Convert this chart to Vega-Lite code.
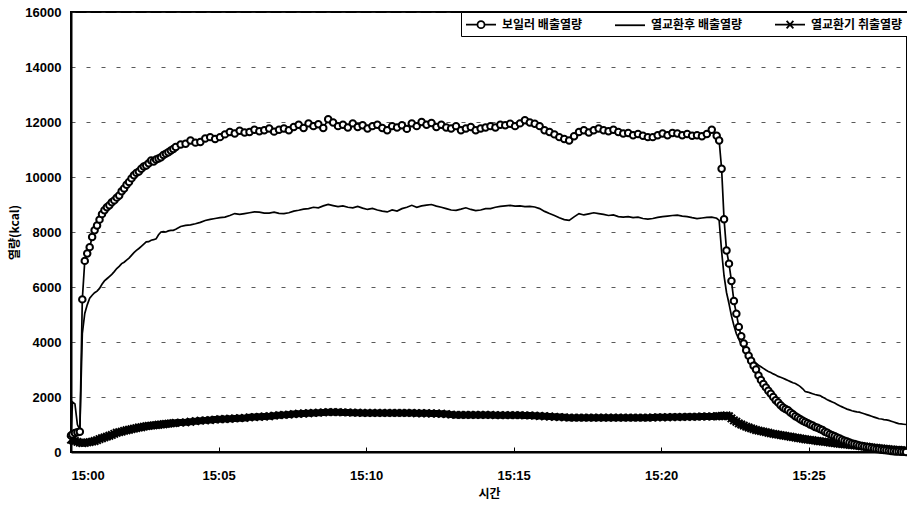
{
  "$schema": "https://vega.github.io/schema/vega-lite/v6.json",
  "autosize": "none",
  "width": 836,
  "height": 440,
  "padding": {"left": 71, "top": 12, "right": 0, "bottom": 57},
  "background": "white",
  "config": {
    "view": {"stroke": "black", "strokeWidth": 2},
    "font": "Liberation Sans"
  },
  "data": {"values": [
    {"s":0,"b":600,"a":550,"i":450},{"s":3,"b":640,"a":1820,"i":430},{"s":8,"b":690,"a":1750,"i":400},{"s":13,"b":720,"a":1000,"i":370},{"s":18,"b":740,"a":800,"i":340},
    {"s":23,"b":5550,"a":4300,"i":320},{"s":28,"b":6950,"a":5040,"i":330},{"s":33,"b":7220,"a":5350,"i":350},{"s":38,"b":7450,"a":5590,"i":360},{"s":43,"b":7820,"a":5700,"i":380},
    {"s":48,"b":8060,"a":5790,"i":400},{"s":53,"b":8240,"a":5850,"i":430},{"s":58,"b":8450,"a":5950,"i":470},{"s":63,"b":8650,"a":6100,"i":500},{"s":68,"b":8790,"a":6220,"i":530},
    {"s":73,"b":8900,"a":6300,"i":560},{"s":78,"b":8970,"a":6380,"i":590},{"s":83,"b":9080,"a":6460,"i":620},{"s":88,"b":9150,"a":6560,"i":660},{"s":93,"b":9250,"a":6670,"i":700},
    {"s":98,"b":9330,"a":6750,"i":720},{"s":103,"b":9480,"a":6850,"i":740},{"s":108,"b":9580,"a":6900,"i":770},{"s":113,"b":9720,"a":6980,"i":790},{"s":118,"b":9820,"a":7050,"i":810},
    {"s":123,"b":9950,"a":7150,"i":830},{"s":128,"b":10060,"a":7250,"i":850},{"s":133,"b":10150,"a":7330,"i":870},{"s":138,"b":10200,"a":7400,"i":890},{"s":143,"b":10300,"a":7480,"i":900},
    {"s":148,"b":10380,"a":7560,"i":920},{"s":153,"b":10420,"a":7640,"i":940},{"s":158,"b":10500,"a":7650,"i":950},{"s":163,"b":10600,"a":7700,"i":960},{"s":168,"b":10560,"a":7720,"i":970},
    {"s":173,"b":10640,"a":7750,"i":980},{"s":178,"b":10670,"a":7900,"i":990},{"s":183,"b":10720,"a":8000,"i":1000},{"s":188,"b":10800,"a":8010,"i":1010},{"s":193,"b":10850,"a":8000,"i":1020},
    {"s":198,"b":10900,"a":8040,"i":1030},{"s":203,"b":10960,"a":8060,"i":1040},{"s":208,"b":11020,"a":8060,"i":1050},{"s":213,"b":11090,"a":8100,"i":1060},
    {"s":223,"b":11180,"a":8200,"i":1070},{"s":233,"b":11210,"a":8240,"i":1080},{"s":243,"b":11330,"a":8260,"i":1100},{"s":253,"b":11250,"a":8300,"i":1120},{"s":263,"b":11270,"a":8350,"i":1140},
    {"s":273,"b":11400,"a":8420,"i":1150},{"s":283,"b":11450,"a":8460,"i":1160},{"s":293,"b":11380,"a":8490,"i":1180},{"s":303,"b":11450,"a":8520,"i":1190},{"s":313,"b":11550,"a":8540,"i":1200},
    {"s":323,"b":11640,"a":8600,"i":1210},{"s":333,"b":11580,"a":8670,"i":1220},{"s":343,"b":11680,"a":8640,"i":1230},{"s":353,"b":11620,"a":8670,"i":1240},{"s":363,"b":11640,"a":8700,"i":1260},
    {"s":373,"b":11720,"a":8730,"i":1270},{"s":383,"b":11660,"a":8720,"i":1280},{"s":393,"b":11700,"a":8690,"i":1290},{"s":403,"b":11760,"a":8690,"i":1300},{"s":413,"b":11650,"a":8720,"i":1320},
    {"s":423,"b":11720,"a":8680,"i":1340},{"s":433,"b":11760,"a":8670,"i":1350},{"s":443,"b":11700,"a":8700,"i":1360},{"s":453,"b":11820,"a":8760,"i":1380},{"s":463,"b":11900,"a":8790,"i":1390},
    {"s":473,"b":11780,"a":8830,"i":1400},{"s":483,"b":11950,"a":8850,"i":1410},{"s":493,"b":11850,"a":8900,"i":1420},{"s":503,"b":11920,"a":8880,"i":1430},{"s":513,"b":11780,"a":8950,"i":1440},
    {"s":523,"b":12100,"a":9000,"i":1450},{"s":533,"b":11980,"a":8960,"i":1450},{"s":543,"b":11850,"a":8920,"i":1450},{"s":553,"b":11900,"a":8950,"i":1440},{"s":563,"b":11800,"a":8900,"i":1440},
    {"s":573,"b":11950,"a":8880,"i":1430},{"s":583,"b":11820,"a":8930,"i":1430},{"s":593,"b":11880,"a":8870,"i":1420},{"s":603,"b":11760,"a":8820,"i":1420},{"s":613,"b":11850,"a":8860,"i":1420},
    {"s":623,"b":11900,"a":8800,"i":1420},{"s":633,"b":11780,"a":8760,"i":1420},{"s":643,"b":11700,"a":8730,"i":1420},{"s":653,"b":11850,"a":8800,"i":1420},{"s":663,"b":11800,"a":8760,"i":1420},
    {"s":673,"b":11880,"a":8850,"i":1420},{"s":683,"b":11750,"a":8900,"i":1420},{"s":693,"b":11950,"a":8970,"i":1420},{"s":703,"b":11850,"a":8900,"i":1410},{"s":713,"b":12000,"a":8950,"i":1410},
    {"s":723,"b":11900,"a":8980,"i":1410},{"s":733,"b":11960,"a":9000,"i":1400},{"s":743,"b":11820,"a":8940,"i":1400},{"s":753,"b":11900,"a":8900,"i":1390},{"s":763,"b":11800,"a":8850,"i":1380},
    {"s":773,"b":11760,"a":8800,"i":1360},{"s":783,"b":11850,"a":8790,"i":1350},{"s":793,"b":11700,"a":8830,"i":1350},{"s":803,"b":11760,"a":8880,"i":1350},{"s":813,"b":11820,"a":8820,"i":1350},
    {"s":823,"b":11700,"a":8780,"i":1350},{"s":833,"b":11760,"a":8800,"i":1350},{"s":843,"b":11800,"a":8850,"i":1350},{"s":853,"b":11850,"a":8850,"i":1350},{"s":863,"b":11800,"a":8900,"i":1340},
    {"s":873,"b":11900,"a":8930,"i":1340},{"s":883,"b":11880,"a":8950,"i":1340},{"s":893,"b":11940,"a":8970,"i":1340},{"s":903,"b":11850,"a":8940,"i":1340},{"s":913,"b":11950,"a":8950,"i":1340},
    {"s":923,"b":12060,"a":8920,"i":1330},{"s":933,"b":11980,"a":8930,"i":1330},{"s":943,"b":11940,"a":8910,"i":1320},{"s":953,"b":11850,"a":8850,"i":1310},{"s":963,"b":11700,"a":8750,"i":1300},
    {"s":973,"b":11640,"a":8670,"i":1290},{"s":983,"b":11550,"a":8600,"i":1280},{"s":993,"b":11450,"a":8520,"i":1270},{"s":1003,"b":11380,"a":8450,"i":1260},{"s":1013,"b":11330,"a":8420,"i":1250},
    {"s":1023,"b":11480,"a":8550,"i":1250},{"s":1033,"b":11640,"a":8670,"i":1250},{"s":1043,"b":11700,"a":8620,"i":1250},{"s":1053,"b":11620,"a":8660,"i":1250},{"s":1063,"b":11700,"a":8700,"i":1250},
    {"s":1073,"b":11760,"a":8670,"i":1250},{"s":1083,"b":11700,"a":8640,"i":1250},{"s":1093,"b":11660,"a":8600,"i":1250},{"s":1103,"b":11720,"a":8620,"i":1250},{"s":1113,"b":11640,"a":8560,"i":1250},
    {"s":1123,"b":11580,"a":8540,"i":1250},{"s":1133,"b":11600,"a":8560,"i":1250},{"s":1143,"b":11520,"a":8520,"i":1250},{"s":1153,"b":11560,"a":8540,"i":1250},{"s":1163,"b":11500,"a":8490,"i":1250},
    {"s":1173,"b":11450,"a":8470,"i":1250},{"s":1183,"b":11450,"a":8490,"i":1255},{"s":1193,"b":11520,"a":8530,"i":1260},{"s":1203,"b":11580,"a":8560,"i":1260},{"s":1213,"b":11520,"a":8580,"i":1265},
    {"s":1223,"b":11600,"a":8600,"i":1270},{"s":1233,"b":11580,"a":8610,"i":1270},{"s":1243,"b":11520,"a":8580,"i":1275},{"s":1253,"b":11560,"a":8560,"i":1280},{"s":1263,"b":11500,"a":8520,"i":1280},
    {"s":1273,"b":11520,"a":8490,"i":1285},{"s":1283,"b":11480,"a":8510,"i":1290},{"s":1293,"b":11560,"a":8530,"i":1290},{"s":1303,"b":11720,"a":8540,"i":1295},{"s":1313,"b":11500,"a":8500,"i":1300},
    {"s":1318,"b":11330,"a":8420,"i":1300},{"s":1323,"b":10300,"a":7300,"i":1310},{"s":1328,"b":8460,"a":6400,"i":1320},{"s":1333,"b":7330,"a":5800,"i":1330},{"s":1338,"b":6850,"a":5400,"i":1300},
    {"s":1343,"b":6220,"a":4950,"i":1220},{"s":1348,"b":5490,"a":4600,"i":1150},{"s":1353,"b":5030,"a":4300,"i":1100},{"s":1358,"b":4550,"a":4100,"i":1040},{"s":1363,"b":4210,"a":3900,"i":1000},
    {"s":1368,"b":3950,"a":3760,"i":960},{"s":1373,"b":3700,"a":3620,"i":920},{"s":1378,"b":3500,"a":3500,"i":890},{"s":1383,"b":3320,"a":3400,"i":860},{"s":1388,"b":3140,"a":3310,"i":830},
    {"s":1393,"b":3000,"a":3230,"i":800},{"s":1398,"b":2780,"a":3160,"i":780},{"s":1403,"b":2620,"a":3100,"i":760},{"s":1408,"b":2470,"a":3040,"i":740},{"s":1413,"b":2350,"a":2980,"i":720},
    {"s":1418,"b":2230,"a":2930,"i":700},{"s":1423,"b":2120,"a":2890,"i":680},{"s":1428,"b":2000,"a":2840,"i":660},{"s":1433,"b":1880,"a":2800,"i":645},{"s":1438,"b":1800,"a":2750,"i":630},
    {"s":1443,"b":1700,"a":2720,"i":615},{"s":1448,"b":1620,"a":2680,"i":600},{"s":1453,"b":1560,"a":2640,"i":585},{"s":1458,"b":1520,"a":2600,"i":570},{"s":1463,"b":1440,"a":2560,"i":555},
    {"s":1468,"b":1370,"a":2520,"i":540},{"s":1473,"b":1300,"a":2490,"i":525},{"s":1478,"b":1250,"a":2440,"i":510},{"s":1483,"b":1190,"a":2380,"i":495},{"s":1488,"b":1140,"a":2300,"i":480},
    {"s":1493,"b":1090,"a":2200,"i":465},{"s":1498,"b":1050,"a":2180,"i":450},{"s":1503,"b":1000,"a":2150,"i":440},{"s":1508,"b":960,"a":2120,"i":430},{"s":1513,"b":910,"a":2090,"i":415},
    {"s":1518,"b":880,"a":2070,"i":400},{"s":1523,"b":840,"a":2050,"i":390},{"s":1528,"b":800,"a":2000,"i":380},{"s":1533,"b":740,"a":1950,"i":370},{"s":1538,"b":700,"a":1900,"i":360},
    {"s":1543,"b":650,"a":1860,"i":345},{"s":1548,"b":610,"a":1820,"i":330},{"s":1553,"b":570,"a":1780,"i":320},{"s":1558,"b":530,"a":1730,"i":310},{"s":1563,"b":490,"a":1680,"i":300},
    {"s":1568,"b":450,"a":1640,"i":290},{"s":1573,"b":410,"a":1600,"i":280},{"s":1578,"b":380,"a":1560,"i":270},{"s":1583,"b":350,"a":1530,"i":260},{"s":1588,"b":310,"a":1500,"i":250},
    {"s":1593,"b":290,"a":1480,"i":240},{"s":1598,"b":260,"a":1460,"i":230},{"s":1603,"b":240,"a":1450,"i":220},{"s":1608,"b":220,"a":1420,"i":210},{"s":1613,"b":200,"a":1390,"i":200},
    {"s":1618,"b":185,"a":1360,"i":190},{"s":1623,"b":170,"a":1330,"i":180},{"s":1628,"b":150,"a":1300,"i":170},{"s":1633,"b":130,"a":1270,"i":160},{"s":1638,"b":110,"a":1240,"i":150},
    {"s":1643,"b":100,"a":1210,"i":140},{"s":1648,"b":85,"a":1200,"i":130},{"s":1653,"b":70,"a":1180,"i":120},{"s":1658,"b":60,"a":1170,"i":110},{"s":1663,"b":50,"a":1150,"i":100},
    {"s":1668,"b":40,"a":1120,"i":90},{"s":1673,"b":30,"a":1090,"i":85},{"s":1678,"b":20,"a":1060,"i":80},{"s":1683,"b":15,"a":1030,"i":75},{"s":1688,"b":10,"a":1020,"i":70},
    {"s":1693,"b":5,"a":1010,"i":65},{"s":1698,"b":0,"a":1000,"i":60}
  ]},
  "transform": [{"fold": ["b", "a", "i"], "as": ["k", "v"]}],
  "encoding": {
    "x": {
      "field": "s", "type": "quantitative",
      "scale": {"domain": [0, 1700], "nice": false, "zero": false},
      "axis": {
        "title": "시간",
        "titleFont": "Noto Sans CJK KR", "titleFontSize": 12, "titleFontWeight": "bold", "titleColor": "black", "titlePadding": 6,
        "values": [0, 300, 600, 900, 1200, 1500],
        "labelExpr": "'15:' + (datum.value < 600 ? '0' : '') + (datum.value / 60)",
        "labelFont": "Liberation Sans", "labelFontSize": 13, "labelFontWeight": "bold", "labelColor": "black",
        "labelPadding": 22,
        "ticks": true, "tickSize": -5, "tickColor": "black", "tickWidth": 1,
        "grid": false,
        "domain": true, "domainColor": "black", "domainWidth": 2
      }
    },
    "y": {
      "field": "v", "type": "quantitative",
      "scale": {"domain": [0, 16000], "nice": false},
      "axis": {
        "title": "열량(kcal)",
        "titleFont": "Noto Sans CJK KR", "titleFontSize": 12, "titleFontWeight": "bold", "titleColor": "black", "titlePadding": 3,
        "values": [0, 2000, 4000, 6000, 8000, 10000, 12000, 14000, 16000],
        "format": "d",
        "labelFont": "Liberation Sans", "labelFontSize": 13, "labelFontWeight": "bold", "labelColor": "black",
        "labelPadding": 10,
        "ticks": false,
        "grid": true, "gridColor": "#222222", "gridDash": [4, 11], "gridWidth": 1, "gridOpacity": 0.75,
        "domain": true, "domainColor": "black", "domainWidth": 2
      }
    }
  },
  "layer": [
    {
      "transform": [{"filter": "datum.k == 'i'"}],
      "mark": {"type": "line", "color": "black", "strokeWidth": 7}
    },
    {
      "transform": [{"filter": "datum.k == 'i'"}],
      "mark": {"type": "point", "shape": "M-1,-1L1,1M-1,1L1,-1", "filled": false, "stroke": "black", "strokeWidth": 2, "size": 55, "opacity": 1}
    },
    {
      "transform": [{"filter": "datum.k == 'a'"}],
      "mark": {"type": "line", "color": "black", "strokeWidth": 1.7}
    },
    {
      "transform": [{"filter": "datum.k == 'b'"}],
      "mark": {"type": "line", "color": "black", "strokeWidth": 1.7}
    },
    {
      "transform": [{"filter": "datum.k == 'b'"}],
      "mark": {"type": "point", "shape": "circle", "filled": true, "fill": "white", "stroke": "black", "strokeWidth": 2, "size": 42, "opacity": 1}
    },
    {
      "mark": {"type": "point", "opacity": 0, "filled": false, "stroke": "black"},
      "encoding": {
        "shape": {
          "field": "k", "type": "nominal",
          "scale": {
            "domain": ["b", "a", "i"],
            "range": [
              "M-1,0L0.5,0M1.5,0L3,0M0.53,0A0.47,0.47,0,1,1,1.47,0A0.47,0.47,0,1,1,0.53,0",
              "M-1,0L3,0",
              "M-1,0L3,0M0.55,-0.5L1.45,0.5M0.55,0.5L1.45,-0.5"
            ]
          },
          "legend": {
            "title": null,
            "orient": "top-right",
            "offset": 0,
            "direction": "horizontal",
            "labelExpr": "datum.label == 'b' ? '보일러 배출열량' : (datum.label == 'a' ? '열교환후 배출열량' : '열교환기 취출열량')",
            "labelFont": "Noto Sans CJK KR", "labelFontSize": 12, "labelFontWeight": "bold", "labelColor": "black",
            "labelOffset": 20,
            "columnPadding": 28,
            "padding": 4,
            "strokeColor": "black",
            "fillColor": "white",
            "symbolSize": 225,
            "symbolStrokeColor": "black",
            "symbolFillColor": "white",
            "symbolStrokeWidth": 1.8,
            "symbolOpacity": 1,
            "encode": {"legend": {"update": {"strokeWidth": {"value": 2}}}}
          }
        }
      }
    }
  ]
}
